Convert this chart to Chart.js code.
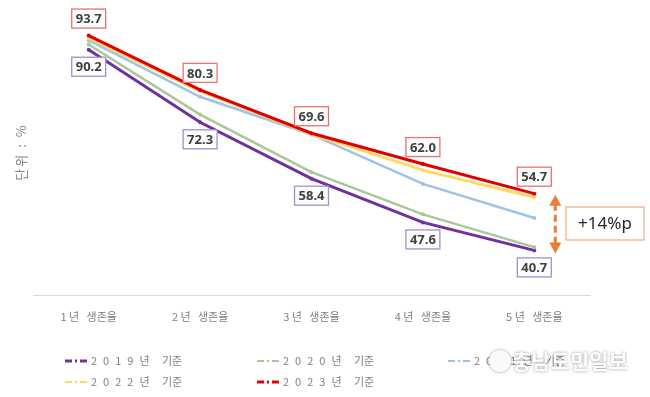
<!DOCTYPE html>
<html>
<head>
<meta charset="utf-8">
<script src="https://cdn.jsdelivr.net/npm/chart.js@4"></script>
<style>
  html, body { margin: 0; padding: 0; background: #fff; }
  #wrap { width: 650px; height: 397px; position: relative; }
</style>
</head>
<body>
<div id="wrap"><canvas id="survivalChart"></canvas></div>
<script>
// categories and series
var categories = ['1 년   생존율', '2 년   생존율', '3 년   생존율', '4 년   생존율', '5 년   생존율'];
var seriesYears = ['2019년', '2020년', '2021년', '2022년', '2023년'];
var y2019 = [90.2, 72.3, 58.4, 47.6, 40.7];
var y2020 = [91.5, 74.2, 60.0, 49.6, 41.5];
var y2021 = [92.5, 78.6, 69.3, 57.1, 48.7];
var y2022 = [93.1, 80.0, 69.4, 60.5, 53.8];
var y2023 = [93.7, 80.3, 69.6, 62.0, 54.7];
var gapLabel = '+14%p';

var colors = ['#7030a0', '#a9c79a', '#9dc3e6', '#ffd966', '#e00000'];
var widths = [3, 2.5, 2.5, 3, 3];

var allSeries = [y2019, y2020, y2021, y2022, y2023];
var datasets = allSeries.map(function (vals, i) {
  return {
    label: seriesYears[i] + ' 기준',
    data: vals,
    borderColor: colors[i],
    backgroundColor: colors[i],
    borderWidth: widths[i],
    pointRadius: 2,
    pointBorderWidth: 0,
    tension: 0,
    order: 4 - i // 2023 drawn on top
  };
});

// value boxes, annotation arrow, y title, legend, watermark
var extras = {
  id: 'extras',
  afterDatasetsDraw: function (chart) {
    var ctx = chart.ctx;
    var xs = chart.scales.x, ys = chart.scales.y;

    function box(text, cx, cy, border) {
      ctx.save();
      ctx.font = 'bold 13px "Noto Sans", sans-serif';
      var w = ctx.measureText(text).width + 8, h = 19;
      ctx.fillStyle = '#fff';
      ctx.fillRect(cx - w / 2, cy - h / 2, w, h);
      ctx.strokeStyle = border;
      ctx.lineWidth = 1.3;
      ctx.strokeRect(cx - w / 2, cy - h / 2, w, h);
      ctx.fillStyle = '#404040';
      ctx.textAlign = 'center';
      ctx.textBaseline = 'middle';
      ctx.fillText(text, cx, cy + 1);
      ctx.restore();
    }
    y2023.forEach(function (v, i) {
      box(v.toFixed(1), xs.getPixelForValue(i), ys.getPixelForValue(v) - 17, '#e87070');
    });
    y2019.forEach(function (v, i) {
      box(v.toFixed(1), xs.getPixelForValue(i), ys.getPixelForValue(v) + 17, '#a18fcf');
    });

    // double arrow between 2023 and 2019 at year 5
    var ax = xs.getPixelForValue(4) + 21;
    var top = ys.getPixelForValue(y2023[4]) + 1, bot = ys.getPixelForValue(y2019[4]) + 3;
    ctx.save();
    ctx.strokeStyle = '#ed7d31';
    ctx.fillStyle = '#ed7d31';
    ctx.lineWidth = 3;
    ctx.setLineDash([7, 4]);
    ctx.beginPath();
    ctx.moveTo(ax, top + 9);
    ctx.lineTo(ax, bot - 9);
    ctx.stroke();
    ctx.setLineDash([]);
    ctx.beginPath();
    ctx.moveTo(ax, top); ctx.lineTo(ax - 6, top + 11); ctx.lineTo(ax + 6, top + 11); ctx.closePath(); ctx.fill();
    ctx.beginPath();
    ctx.moveTo(ax, bot); ctx.lineTo(ax - 6, bot - 11); ctx.lineTo(ax + 6, bot - 11); ctx.closePath(); ctx.fill();
    // +14%p box
    ctx.strokeStyle = '#f4b183';
    ctx.lineWidth = 1.3;
    ctx.fillStyle = '#fff';
    ctx.fillRect(566, 207, 78, 33);
    ctx.strokeRect(566, 207, 78, 33);
    ctx.fillStyle = '#262626';
    ctx.font = '17px "Noto Sans", sans-serif';
    ctx.textAlign = 'center';
    ctx.textBaseline = 'middle';
    ctx.fillText(gapLabel, 605, 224);
    ctx.restore();

    // y axis unit title
    ctx.save();
    ctx.translate(21, 152);
    ctx.rotate(-Math.PI / 2);
    ctx.fillStyle = '#808080';
    ctx.font = '13px "Noto Sans CJK KR", sans-serif';
    ctx.letterSpacing = '2px';
    ctx.textAlign = 'center';
    ctx.textBaseline = 'middle';
    ctx.fillText('단위 : %', 0, 0);
    ctx.restore();

    // legend (3 columns, 2 rows)
    var spots = [[65, 361], [257, 361], [448, 361], [65, 382], [257, 382]];
    ctx.save();
    seriesYears.forEach(function (name, i) {
      var x = spots[i][0], y = spots[i][1];
      ctx.strokeStyle = colors[i];
      ctx.lineWidth = (i === 0 || i === 4) ? 3 : 2;
      ctx.beginPath();
      ctx.moveTo(x, y); ctx.lineTo(x + 7, y);
      ctx.moveTo(x + 10, y); ctx.lineTo(x + 12, y);
      ctx.moveTo(x + 15, y); ctx.lineTo(x + 22, y);
      ctx.stroke();
      ctx.fillStyle = '#808080';
      ctx.font = '11px "Noto Sans CJK KR", sans-serif';
      ctx.textBaseline = 'middle';
      ctx.textAlign = 'left';
      ctx.letterSpacing = '6px';
      ctx.fillText(name, x + 26, y);
      ctx.letterSpacing = '0px';
      ctx.fillText('기준', x + 97, y);
    });
    ctx.restore();

    // watermark
    ctx.save();
    ctx.shadowColor = 'rgba(0,0,0,0.45)';
    ctx.shadowBlur = 3;
    ctx.fillStyle = 'rgba(255,255,255,0.95)';
    ctx.beginPath();
    ctx.arc(500, 361, 11, 0, Math.PI * 2);
    ctx.fill();
    ctx.font = 'bold 21px "Noto Sans CJK KR", sans-serif';
    ctx.textBaseline = 'middle';
    ctx.fillText('충남도민일보', 512, 361);
    ctx.restore();
  }
};

new Chart(document.getElementById('survivalChart'), {
  type: 'line',
  data: { labels: categories, datasets: datasets },
  options: {
    responsive: true,
    maintainAspectRatio: false,
    animation: false,
    layout: { padding: { left: 33, right: 60, top: 8, bottom: 60 } },
    plugins: { legend: { display: false }, tooltip: { enabled: false } },
    scales: {
      x: {
        offset: true,
        grid: { display: false, drawTicks: false },
        border: { display: true, color: '#d9d9d9', width: 1 },
        ticks: { color: '#808080', font: { size: 11, family: '"Noto Sans CJK KR", sans-serif' }, padding: 14 }
      },
      y: {
        display: false,
        min: 29.5,
        max: 100.5
      }
    }
  },
  plugins: [extras]
});
</script>
</body>
</html>
